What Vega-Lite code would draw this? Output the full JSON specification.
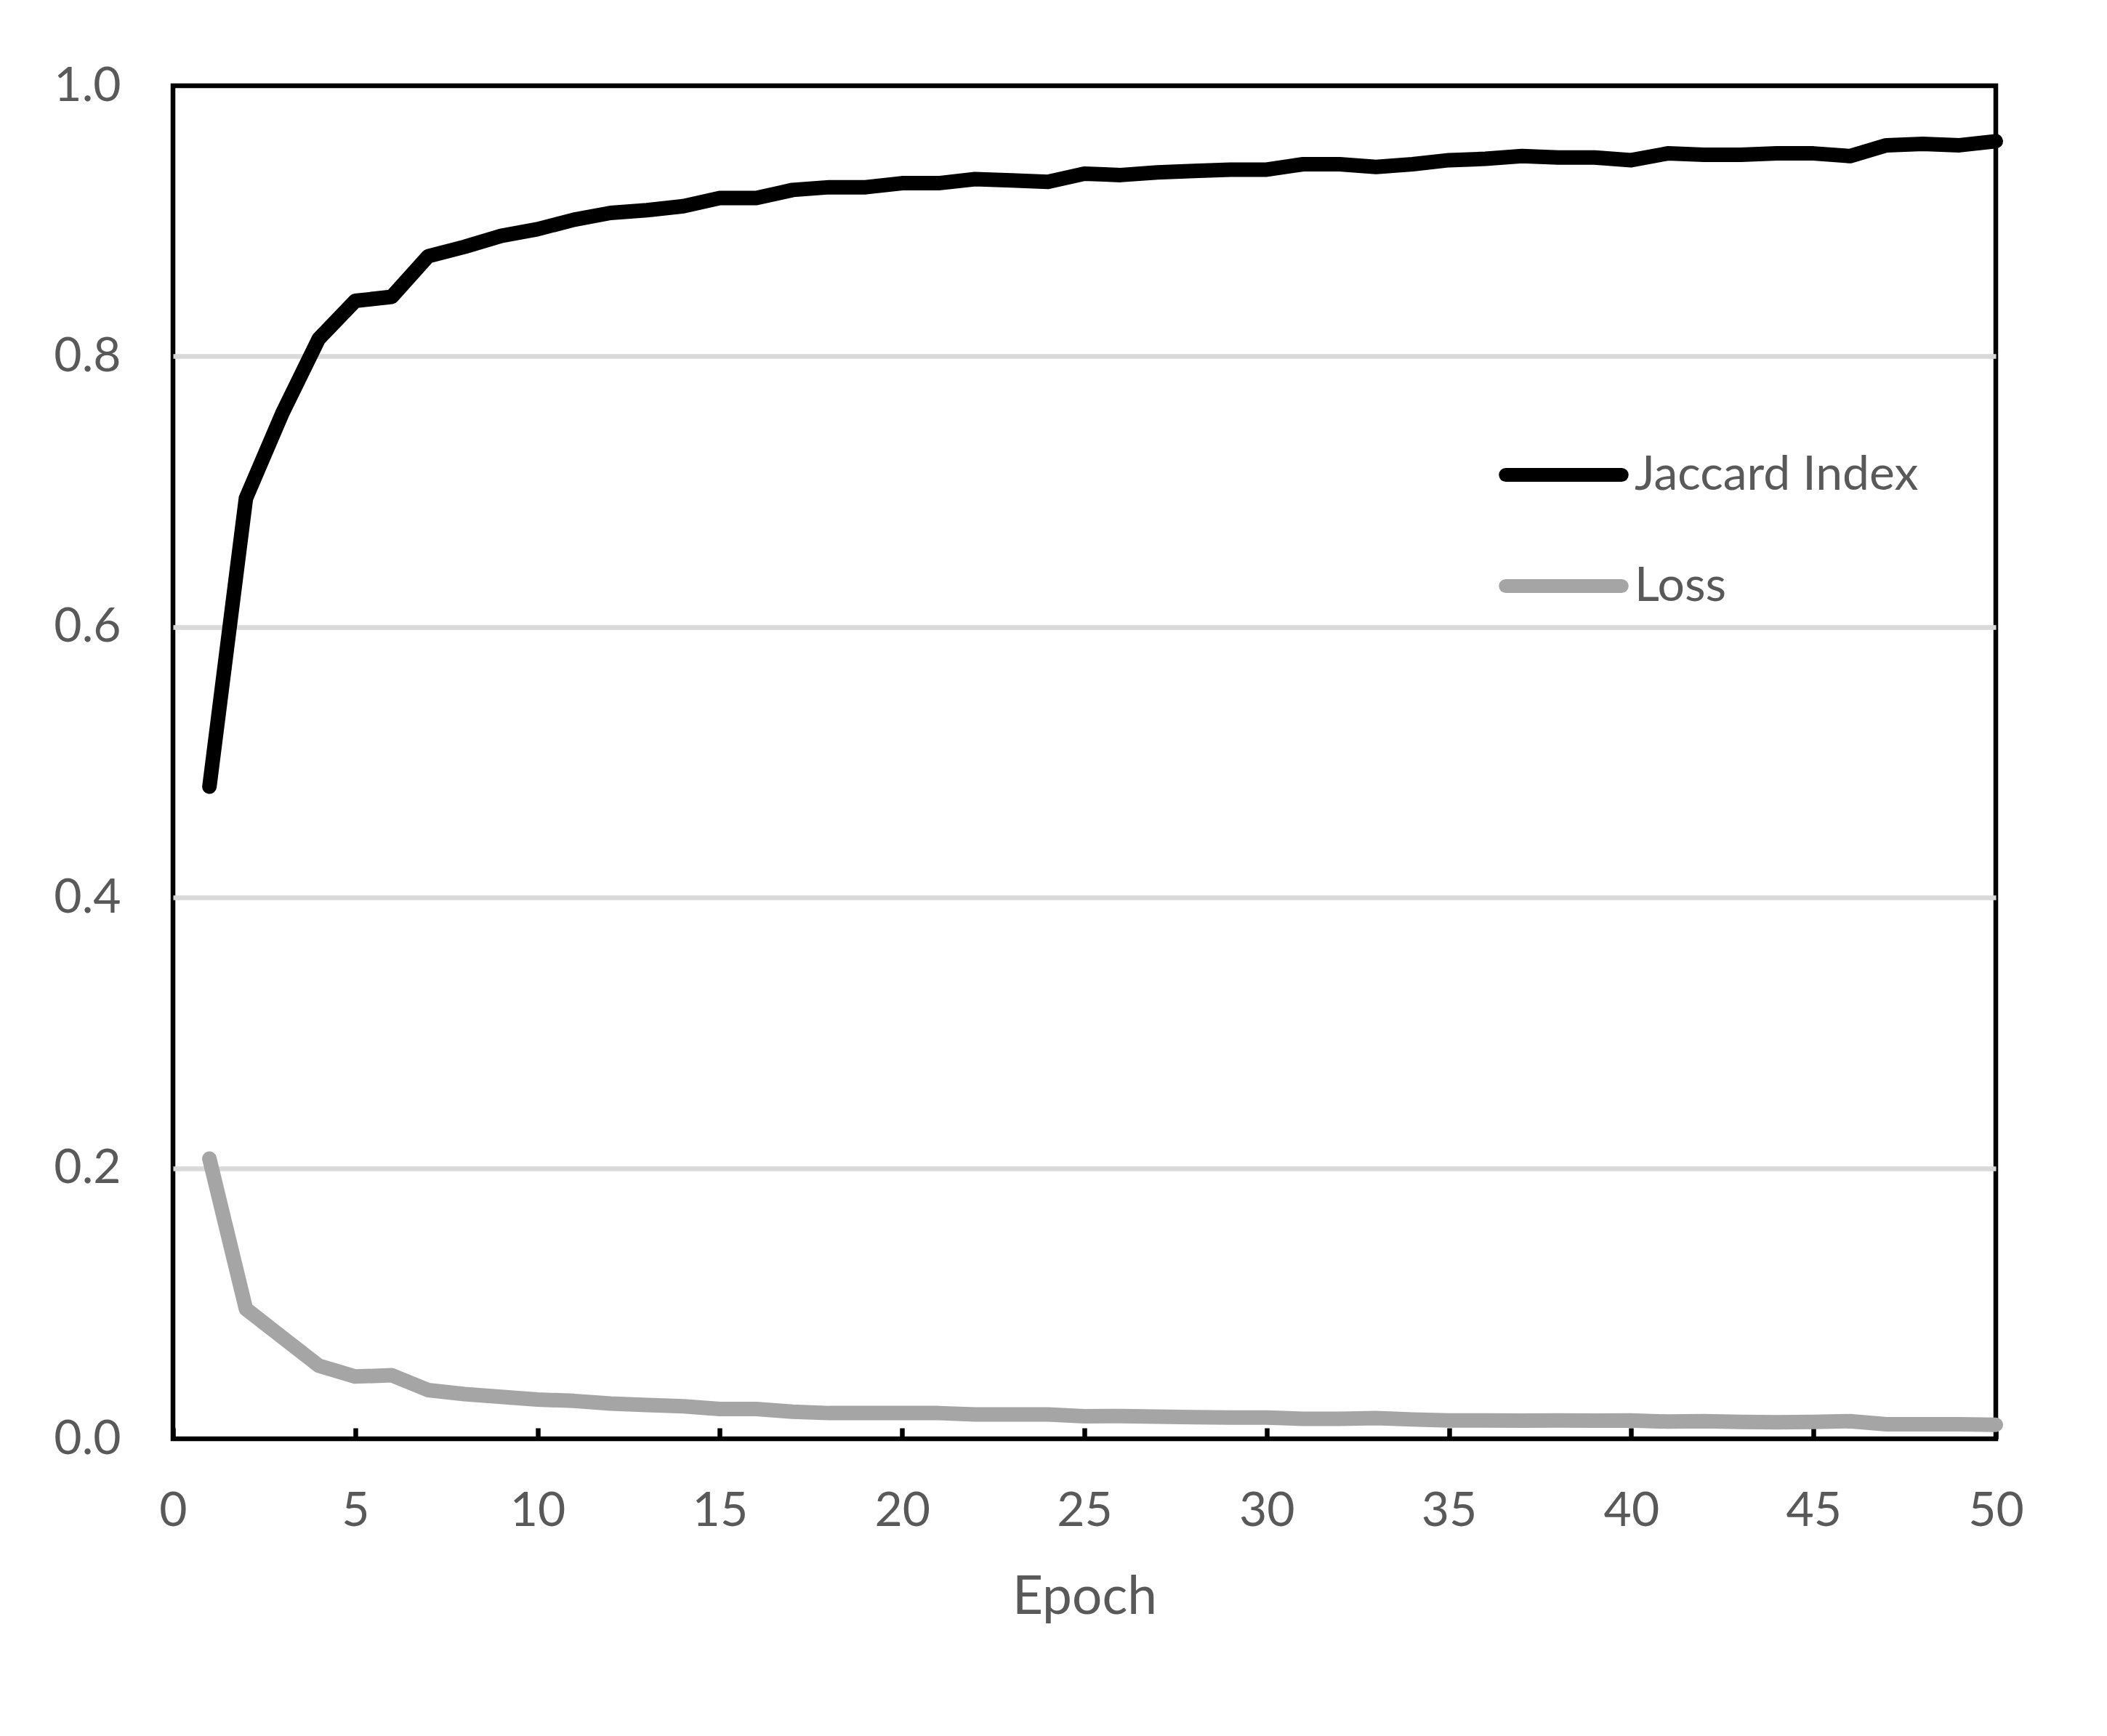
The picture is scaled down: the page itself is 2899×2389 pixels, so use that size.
{
  "$schema": "https://vega.github.io/schema/vega-lite/v6.json",
  "autosize": {"type": "none"},
  "padding": {"left": 238, "top": 118, "right": 153, "bottom": 409},
  "width": 2508,
  "height": 1862,
  "background": "white",
  "config": {
    "view": {"stroke": "#000000", "strokeWidth": 6.5},
    "axis": {
      "labelFont": "Lato", "labelFontSize": 66, "labelColor": "#595959",
      "titleFont": "Lato", "titleFontSize": 73, "titleColor": "#595959", "titleFontWeight": "normal"
    },
    "legend": {"labelFont": "Lato", "labelFontSize": 66, "labelColor": "#595959"}
  },
  "data": {"values": [
    {"epoch": 1, "series": "Jaccard Index", "value": 0.482},
    {"epoch": 2, "series": "Jaccard Index", "value": 0.695},
    {"epoch": 3, "series": "Jaccard Index", "value": 0.758},
    {"epoch": 4, "series": "Jaccard Index", "value": 0.813},
    {"epoch": 5, "series": "Jaccard Index", "value": 0.841},
    {"epoch": 6, "series": "Jaccard Index", "value": 0.844},
    {"epoch": 7, "series": "Jaccard Index", "value": 0.874},
    {"epoch": 8, "series": "Jaccard Index", "value": 0.881},
    {"epoch": 9, "series": "Jaccard Index", "value": 0.889},
    {"epoch": 10, "series": "Jaccard Index", "value": 0.894},
    {"epoch": 11, "series": "Jaccard Index", "value": 0.901},
    {"epoch": 12, "series": "Jaccard Index", "value": 0.906},
    {"epoch": 13, "series": "Jaccard Index", "value": 0.908},
    {"epoch": 14, "series": "Jaccard Index", "value": 0.911},
    {"epoch": 15, "series": "Jaccard Index", "value": 0.917},
    {"epoch": 16, "series": "Jaccard Index", "value": 0.917},
    {"epoch": 17, "series": "Jaccard Index", "value": 0.923},
    {"epoch": 18, "series": "Jaccard Index", "value": 0.925},
    {"epoch": 19, "series": "Jaccard Index", "value": 0.925},
    {"epoch": 20, "series": "Jaccard Index", "value": 0.928},
    {"epoch": 21, "series": "Jaccard Index", "value": 0.928},
    {"epoch": 22, "series": "Jaccard Index", "value": 0.931},
    {"epoch": 23, "series": "Jaccard Index", "value": 0.930},
    {"epoch": 24, "series": "Jaccard Index", "value": 0.929},
    {"epoch": 25, "series": "Jaccard Index", "value": 0.935},
    {"epoch": 26, "series": "Jaccard Index", "value": 0.934},
    {"epoch": 27, "series": "Jaccard Index", "value": 0.936},
    {"epoch": 28, "series": "Jaccard Index", "value": 0.937},
    {"epoch": 29, "series": "Jaccard Index", "value": 0.938},
    {"epoch": 30, "series": "Jaccard Index", "value": 0.938},
    {"epoch": 31, "series": "Jaccard Index", "value": 0.942},
    {"epoch": 32, "series": "Jaccard Index", "value": 0.942},
    {"epoch": 33, "series": "Jaccard Index", "value": 0.940},
    {"epoch": 34, "series": "Jaccard Index", "value": 0.942},
    {"epoch": 35, "series": "Jaccard Index", "value": 0.945},
    {"epoch": 36, "series": "Jaccard Index", "value": 0.946},
    {"epoch": 37, "series": "Jaccard Index", "value": 0.948},
    {"epoch": 38, "series": "Jaccard Index", "value": 0.947},
    {"epoch": 39, "series": "Jaccard Index", "value": 0.947},
    {"epoch": 40, "series": "Jaccard Index", "value": 0.945},
    {"epoch": 41, "series": "Jaccard Index", "value": 0.950},
    {"epoch": 42, "series": "Jaccard Index", "value": 0.949},
    {"epoch": 43, "series": "Jaccard Index", "value": 0.949},
    {"epoch": 44, "series": "Jaccard Index", "value": 0.950},
    {"epoch": 45, "series": "Jaccard Index", "value": 0.950},
    {"epoch": 46, "series": "Jaccard Index", "value": 0.948},
    {"epoch": 47, "series": "Jaccard Index", "value": 0.956},
    {"epoch": 48, "series": "Jaccard Index", "value": 0.957},
    {"epoch": 49, "series": "Jaccard Index", "value": 0.956},
    {"epoch": 50, "series": "Jaccard Index", "value": 0.959},
    {"epoch": 1, "series": "Loss", "value": 0.207},
    {"epoch": 2, "series": "Loss", "value": 0.096},
    {"epoch": 3, "series": "Loss", "value": 0.075},
    {"epoch": 4, "series": "Loss", "value": 0.054},
    {"epoch": 5, "series": "Loss", "value": 0.046},
    {"epoch": 6, "series": "Loss", "value": 0.047},
    {"epoch": 7, "series": "Loss", "value": 0.036},
    {"epoch": 8, "series": "Loss", "value": 0.033},
    {"epoch": 9, "series": "Loss", "value": 0.031},
    {"epoch": 10, "series": "Loss", "value": 0.029},
    {"epoch": 11, "series": "Loss", "value": 0.028},
    {"epoch": 12, "series": "Loss", "value": 0.026},
    {"epoch": 13, "series": "Loss", "value": 0.025},
    {"epoch": 14, "series": "Loss", "value": 0.024},
    {"epoch": 15, "series": "Loss", "value": 0.022},
    {"epoch": 16, "series": "Loss", "value": 0.022},
    {"epoch": 17, "series": "Loss", "value": 0.020},
    {"epoch": 18, "series": "Loss", "value": 0.019},
    {"epoch": 19, "series": "Loss", "value": 0.019},
    {"epoch": 20, "series": "Loss", "value": 0.019},
    {"epoch": 21, "series": "Loss", "value": 0.019},
    {"epoch": 22, "series": "Loss", "value": 0.018},
    {"epoch": 23, "series": "Loss", "value": 0.018},
    {"epoch": 24, "series": "Loss", "value": 0.018},
    {"epoch": 25, "series": "Loss", "value": 0.0166},
    {"epoch": 26, "series": "Loss", "value": 0.0168},
    {"epoch": 27, "series": "Loss", "value": 0.0164},
    {"epoch": 28, "series": "Loss", "value": 0.016},
    {"epoch": 29, "series": "Loss", "value": 0.0157},
    {"epoch": 30, "series": "Loss", "value": 0.0157},
    {"epoch": 31, "series": "Loss", "value": 0.0148},
    {"epoch": 32, "series": "Loss", "value": 0.0148},
    {"epoch": 33, "series": "Loss", "value": 0.0153},
    {"epoch": 34, "series": "Loss", "value": 0.0143},
    {"epoch": 35, "series": "Loss", "value": 0.0136},
    {"epoch": 36, "series": "Loss", "value": 0.0136},
    {"epoch": 37, "series": "Loss", "value": 0.0134},
    {"epoch": 38, "series": "Loss", "value": 0.0136},
    {"epoch": 39, "series": "Loss", "value": 0.0134},
    {"epoch": 40, "series": "Loss", "value": 0.0136},
    {"epoch": 41, "series": "Loss", "value": 0.0127},
    {"epoch": 42, "series": "Loss", "value": 0.013},
    {"epoch": 43, "series": "Loss", "value": 0.0125},
    {"epoch": 44, "series": "Loss", "value": 0.0122},
    {"epoch": 45, "series": "Loss", "value": 0.0125},
    {"epoch": 46, "series": "Loss", "value": 0.013},
    {"epoch": 47, "series": "Loss", "value": 0.0107},
    {"epoch": 48, "series": "Loss", "value": 0.0107},
    {"epoch": 49, "series": "Loss", "value": 0.0107},
    {"epoch": 50, "series": "Loss", "value": 0.0104}
  ]},
  "mark": {"type": "line", "strokeWidth": 20, "strokeCap": "round", "strokeJoin": "round", "clip": false},
  "encoding": {
    "x": {
      "field": "epoch", "type": "quantitative",
      "scale": {"domain": [0, 50], "nice": false, "zero": false},
      "axis": {
        "title": "Epoch",
        "values": [0, 5, 10, 15, 20, 25, 30, 35, 40, 45, 50],
        "grid": false, "domain": false,
        "ticks": true, "tickSize": -15, "tickWidth": 6.5, "tickColor": "#000000",
        "labelPadding": 134, "labelBaseline": "alphabetic",
        "labelFlush": false, "labelOverlap": false,
        "titlePadding": 108, "titleBaseline": "alphabetic"
      }
    },
    "y": {
      "field": "value", "type": "quantitative",
      "scale": {"domain": [0, 1], "nice": false},
      "axis": {
        "title": null,
        "values": [0, 0.2, 0.4, 0.6, 0.8, 1.0],
        "format": ".1f",
        "grid": true, "gridWidth": 6.5,
        "gridColor": {"condition": {"test": "datum.value <= 0.001 || datum.value >= 0.999", "value": "transparent"}, "value": "#d9d9d9"},
        "domain": false, "ticks": false, "tickSize": 0,
        "labelPadding": 72, "labelFlush": false, "labelOverlap": false
      }
    },
    "color": {
      "field": "series", "type": "nominal",
      "scale": {"domain": ["Jaccard Index", "Loss"], "range": ["#000000", "#a5a5a5"]},
      "legend": {
        "title": null,
        "orient": "none",
        "legendX": 1824,
        "legendY": 446,
        "padding": 0,
        "symbolType": "stroke",
        "symbolSize": 25440,
        "symbolStrokeWidth": 19,
        "labelOffset": 8,
        "rowPadding": 25,
        "labelLimit": 1000,
        "encode": {"symbols": {"update": {"strokeCap": {"value": "round"}}}}
      }
    }
  }
}
